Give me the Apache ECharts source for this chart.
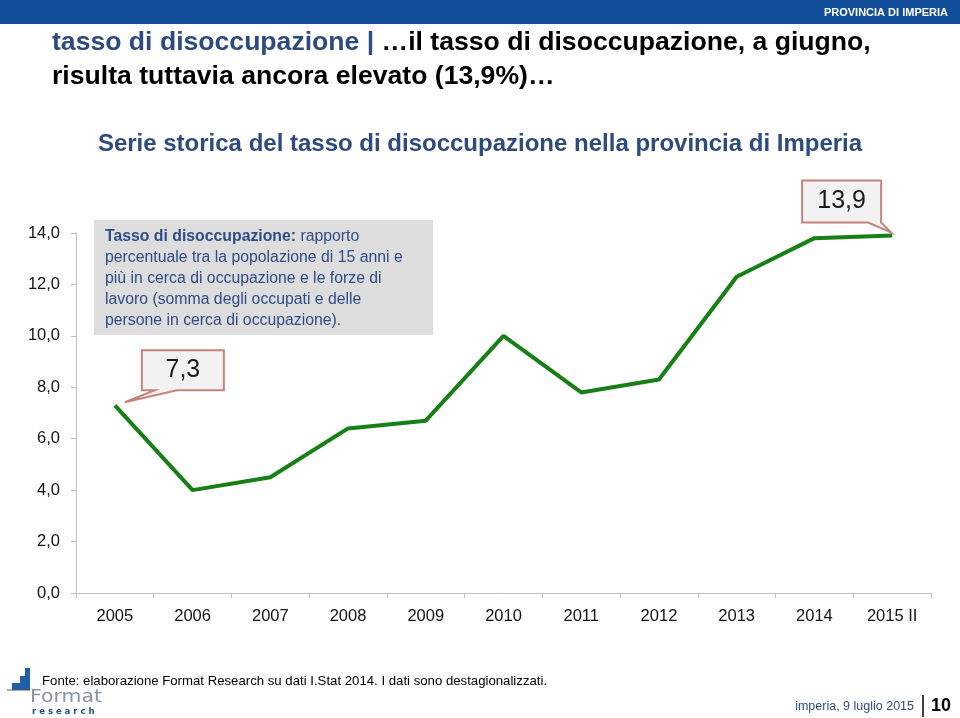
<!DOCTYPE html>
<html>
<head>
<meta charset="utf-8">
<script src="https://cdn.jsdelivr.net/npm/echarts@6/dist/echarts.min.js"></script>
<style>
html,body{margin:0;padding:0;background:#fff;}
#c{width:960px;height:718px;}
</style>
</head>
<body>
<div id="c"></div>
<script>
const categories = ['2005','2006','2007','2008','2009','2010','2011','2012','2013','2014','2015 II'];
const values = [7.3, 4.0, 4.5, 6.4, 6.7, 10.0, 7.8, 8.3, 12.3, 13.8, 13.9];
const yMin = 0, yMax = 14, yStep = 2;
const calloutIdx = [0, 10];

const headerText = 'PROVINCIA DI IMPERIA';
const titleBlue = 'tasso di disoccupazione | ';
const titleBlack1 = '…il tasso di disoccupazione, a giugno,';
const titleBlack2 = 'risulta tuttavia ancora elevato (13,9%)…';
const subtitle = 'Serie storica del tasso di disoccupazione nella provincia di Imperia';
const noteBold = 'Tasso di disoccupazione:';
const noteLines = [' rapporto', 'percentuale tra la popolazione di 15 anni e', 'più in cerca di occupazione e le forze di', 'lavoro (somma degli occupati e delle', 'persone in cerca di occupazione).'];
const source = 'Fonte: elaborazione Format Research su dati I.Stat 2014. I dati sono destagionalizzati.';
const logoWord = 'Format';
const logoSub = 'r e s e a r c h';
const footerDate = 'imperia, 9 luglio 2015';
const pageNo = '10';

const fmt = v => v.toFixed(1).replace('.', ',');
const FONT = '"Liberation Sans", Arial, sans-serif';
const BLUE = '#2D4B80';
const NOTE = '#2F4C86';

const chart = echarts.init(document.getElementById('c'), null, {renderer: 'canvas'});

const baseGraphic = [
  {type:'rect', shape:{x:0,y:0,width:960,height:24}, style:{fill:'#124E9A'}},
  {type:'text', x:948, y:13, style:{text:headerText, fill:'#fff', font:'bold 11px '+FONT, align:'right', verticalAlign:'middle'}},
  {type:'text', x:52, y:43, style:{rich:{b:{fill:BLUE, font:'bold 26.6px '+FONT}, k:{fill:'#000', font:'bold 26.6px '+FONT}}, text:'{b|'+titleBlue+'}{k|'+titleBlack1+'}', verticalAlign:'middle'}},
  {type:'text', x:52, y:77, style:{text:titleBlack2, fill:'#000', font:'bold 26.6px '+FONT, verticalAlign:'middle'}},
  {type:'text', x:480, y:144, style:{text:subtitle, fill:BLUE, font:'bold 24px '+FONT, align:'center', verticalAlign:'middle'}},
  // note box
  {type:'rect', shape:{x:94,y:220,width:339,height:115}, style:{fill:'#DDDDDD'}},
  {type:'text', x:105, y:237, style:{rich:{b:{fill:NOTE, font:'bold 15.8px '+FONT}, r:{fill:NOTE, font:'15.8px '+FONT}}, text:'{b|'+noteBold+'}{r|'+noteLines[0]+'}', verticalAlign:'middle'}},
  {type:'text', x:105, y:258, style:{text:noteLines[1], fill:NOTE, font:'15.8px '+FONT, verticalAlign:'middle'}},
  {type:'text', x:105, y:279, style:{text:noteLines[2], fill:NOTE, font:'15.8px '+FONT, verticalAlign:'middle'}},
  {type:'text', x:105, y:300, style:{text:noteLines[3], fill:NOTE, font:'15.8px '+FONT, verticalAlign:'middle'}},
  {type:'text', x:105, y:321, style:{text:noteLines[4], fill:NOTE, font:'15.8px '+FONT, verticalAlign:'middle'}},
  // footer
  {type:'text', x:42, y:681, style:{text:source, fill:'#000', font:'13.2px '+FONT, verticalAlign:'middle'}},
  {type:'polygon', shape:{points:[[12,690],[30,690],[30,668],[25,668],[25,676],[20,676],[20,683],[12,683]]}, style:{fill:'#1F5FA8'}},
  {type:'line', shape:{x1:7,y1:690,x2:30,y2:690}, style:{stroke:'#555',lineWidth:1}},
  {type:'text', x:30, y:698, scaleX:1.2, style:{text:logoWord, fill:'#8694A3', font:'17px "DejaVu Sans", sans-serif', verticalAlign:'middle'}},
  {type:'text', x:32, y:712, style:{text:logoSub, fill:'#1F4E8C', font:'bold 8.5px "DejaVu Sans", sans-serif', verticalAlign:'middle'}},
  {type:'text', x:914, y:707, style:{text:footerDate, fill:NOTE, font:'12.5px '+FONT, align:'right', verticalAlign:'middle'}},
  {type:'line', shape:{x1:923,y1:695,x2:923,y2:717}, style:{stroke:'#000',lineWidth:1.5}},
  {type:'text', x:931, y:706, style:{text:pageNo, fill:'#000', font:'bold 18px '+FONT, verticalAlign:'middle'}}
];

const option = {
  animation: false,
  backgroundColor: '#fff',
  grid: {left: 76, right: 29, top: 233, bottom: 125, containLabel: false},
  xAxis: {
    type: 'category', data: categories, boundaryGap: true,
    axisLine: {show: true, lineStyle: {color: '#BFBFBF', width: 1}},
    axisTick: {show: true, interval: 0, length: 5, lineStyle: {color: '#BFBFBF'}},
    axisLabel: {interval: 0, color: '#111', fontSize: 16.5, fontFamily: FONT, margin: 15}
  },
  yAxis: {
    type: 'value', min: yMin, max: yMax, interval: yStep,
    axisLine: {show: true, lineStyle: {color: '#BFBFBF', width: 1}},
    axisTick: {show: true, length: 5, lineStyle: {color: '#BFBFBF'}},
    splitLine: {show: false},
    axisLabel: {color: '#111', fontSize: 16.5, fontFamily: FONT, margin: 16, formatter: v => fmt(v)}
  },
  series: [{
    type: 'line', data: values, symbol: 'none',
    lineStyle: {color: '#168016', width: 4}, z: 3
  }],
  graphic: baseGraphic
};
chart.setOption(option);

// callouts anchored to data points
const callouts = [];
calloutIdx.forEach((i, k) => {
  const p = chart.convertToPixel({seriesIndex: 0}, [i, values[i]]);
  let rx, ry, w, h, pts;
  if (k === 0) {
    w = 82; h = 40;
    rx = p[0] + 27; ry = p[1] - 55;
    pts = [[rx,ry],[rx+w,ry],[rx+w,ry+h],[rx+35,ry+h],[p[0]+10,p[1]-3],[rx+13,ry+h],[rx,ry+h]];
  } else {
    w = 79; h = 42;
    rx = p[0] - 90; ry = p[1] - 55;
    pts = [[rx,ry],[rx+w,ry],[rx+w,ry+h],[p[0]-1,p[1]-3],[rx+w-13,ry+h],[rx,ry+h]];
  }
  callouts.push({type:'polygon', z:10, shape:{points:pts}, style:{fill:'#F2F2F2', stroke:'#C4847C', lineWidth:2, lineJoin:'miter'}});
  callouts.push({type:'text', z:11, x: rx + w/2, y: ry + h/2, style:{text: fmt(values[i]), fill:'#1a1a1a', font:'25px '+FONT, align:'center', verticalAlign:'middle'}});
});
chart.setOption({graphic: baseGraphic.concat(callouts)});
</script>
</body>
</html>
